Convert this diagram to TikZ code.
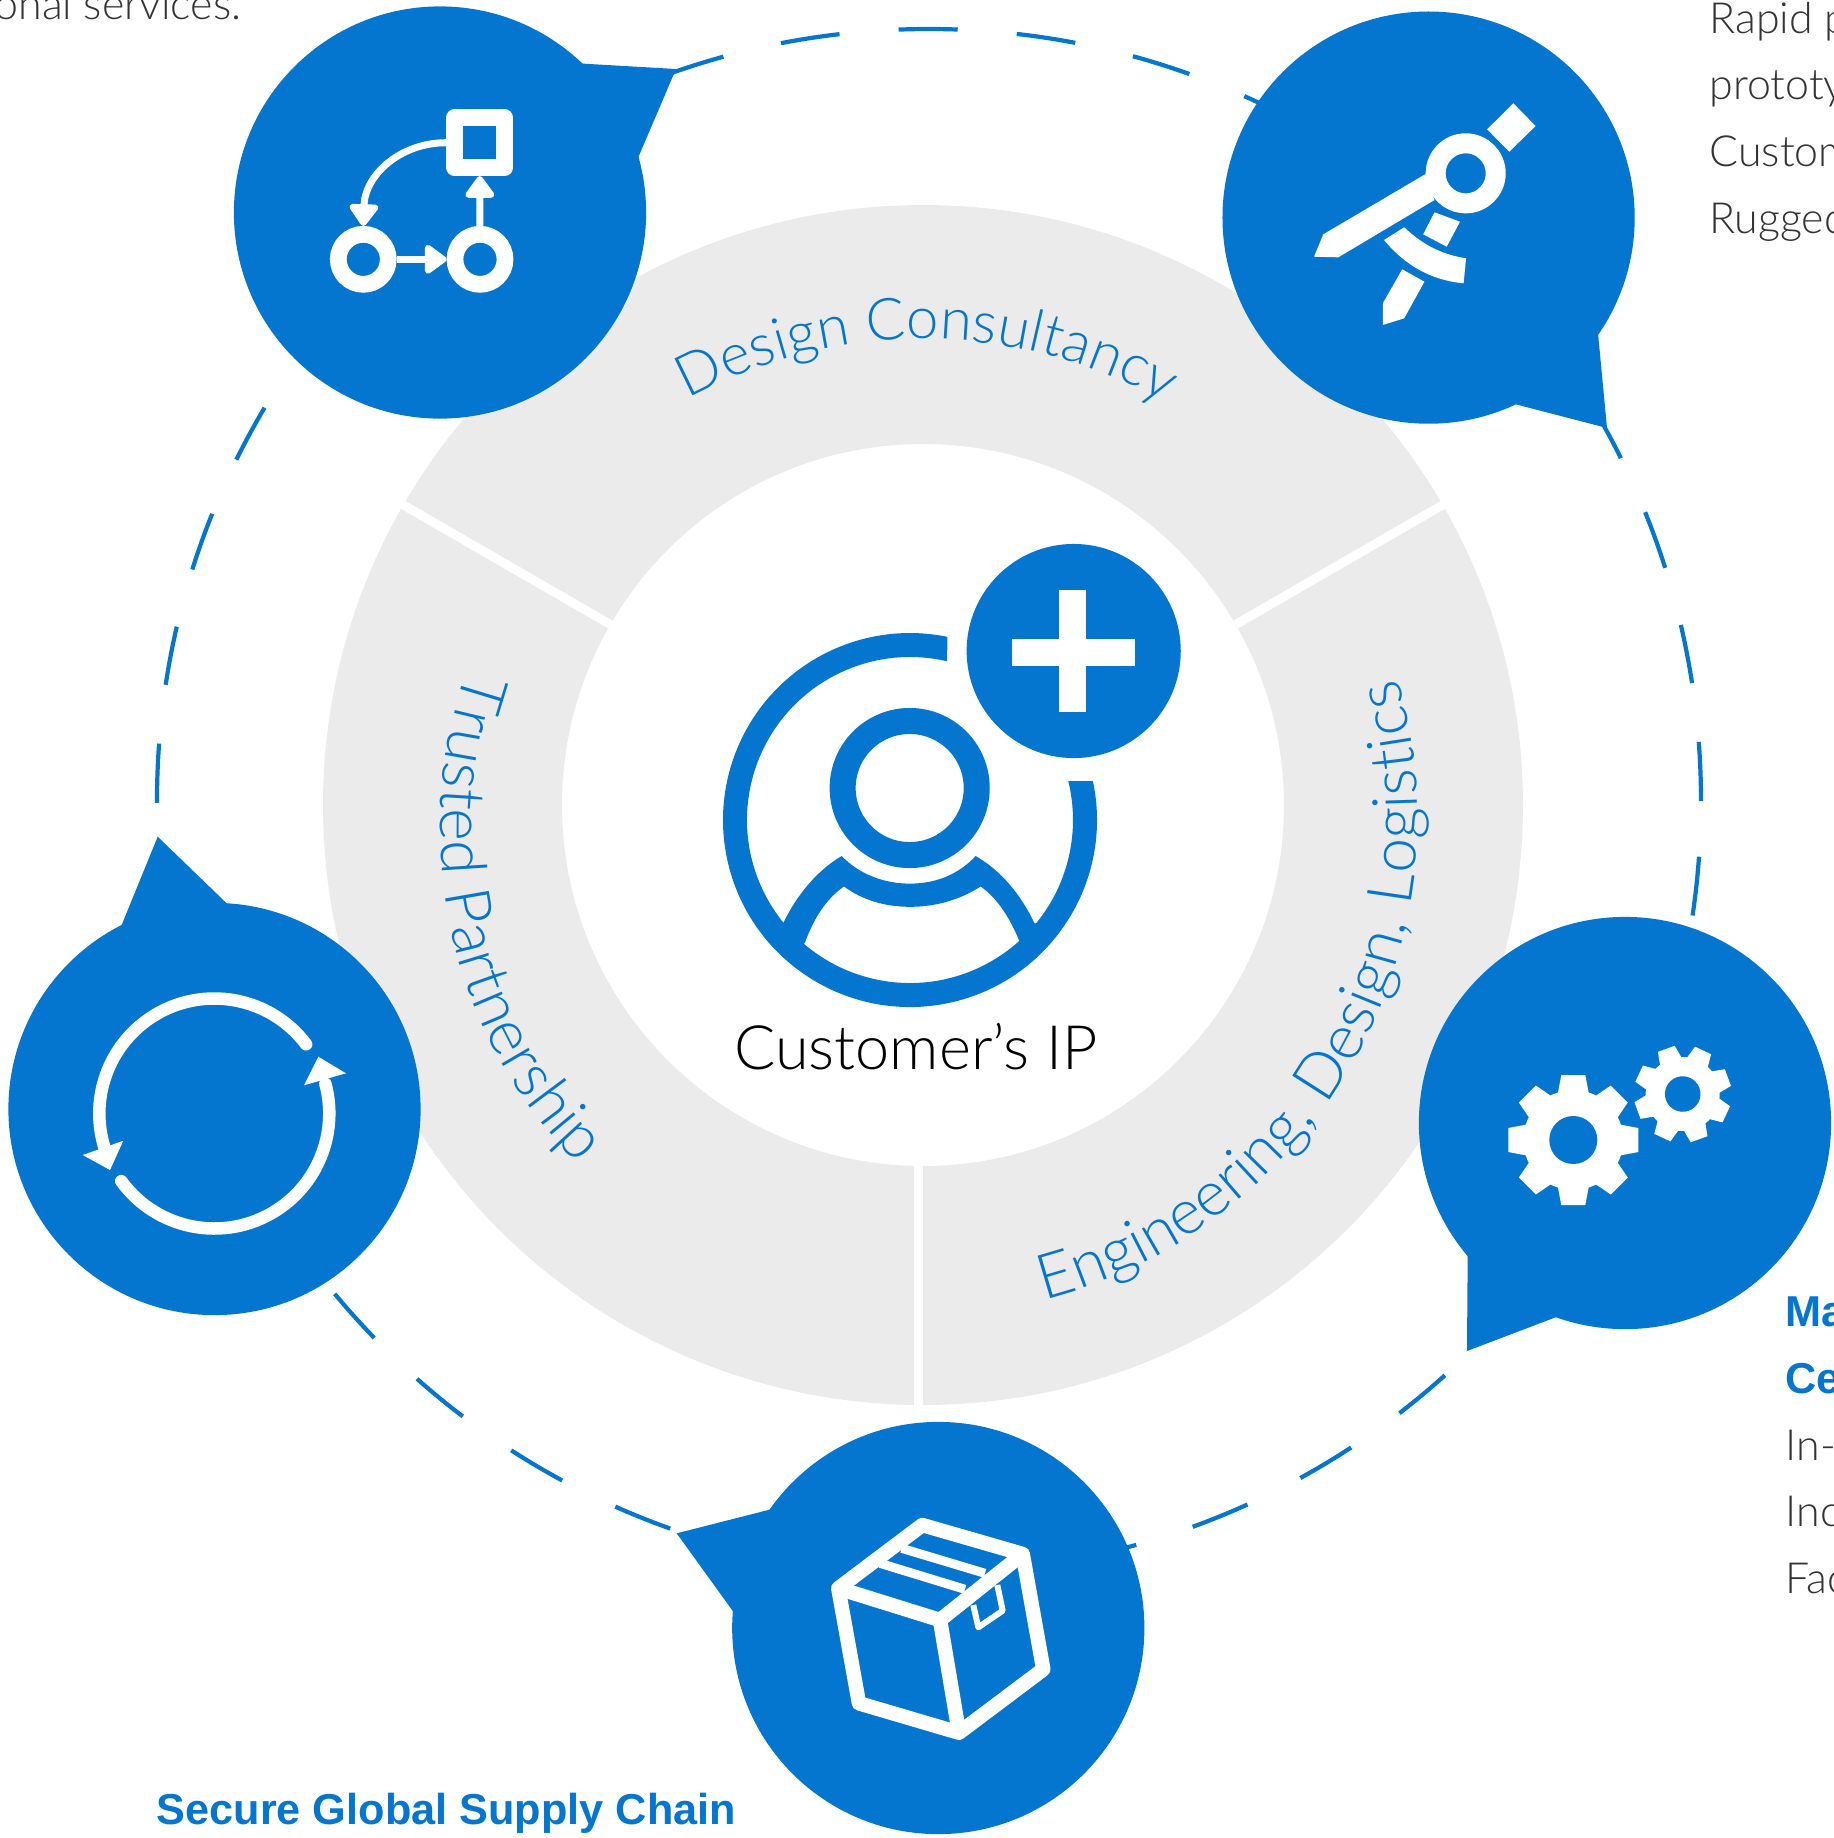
\documentclass[tikz,border=0pt]{standalone}
\usepackage{fontspec}
\setmainfont{Lato}[UprightFont=* Light,BoldFont=* Bold]
\newfontfamily\headfont{Liberation Sans}
\usetikzlibrary{arrows.meta,calc,decorations.text}
\definecolor{dellblue}{HTML}{0476D0}
\definecolor{ringgray}{HTML}{EBEBEB}
\definecolor{bodygray}{HTML}{333333}
\newcommand{\ringfont}{\fontsize{16.5pt}{20pt}\selectfont}
\newcommand{\ringfontwide}{\fontsize{17.8pt}{20pt}\selectfont}

\begin{document}
\begin{tikzpicture}[x=0.01cm, y=0.01cm]
	\tikzstyle{bubble} = [circle, fill=dellblue, inner sep=0, outer sep=0, minimum size=4.12cm]
	\tikzstyle{tail} = [fill=dellblue]
	\tikzstyle{sidetext} = [anchor=base west, inner sep=0, text=bodygray, font=\fontsize{12.2pt}{14pt}\selectfont]
	\tikzstyle{headtext} = [anchor=base west, inner sep=0, text=dellblue, font=\headfont\fontsize{12.3pt}{14pt}\selectfont\bfseries]
	\tikzstyle{ringlabel} = [decorate, decoration={text along path, text color=dellblue, text align=center, raise=0pt}]
	\tikzstyle{flowring} = [circle, draw=white, line width=0.167cm, inner sep=0, minimum size=0.5cm]
	\tikzstyle{flowline} = [draw=white, line width=0.07cm]
	\tikzstyle{flowtip} = [-{Triangle[length=0.24cm, width=0.33cm, round]}]
	\tikzstyle{boxline} = [draw=white, line width=0.145cm, line join=round]
	\clip (0,0) rectangle (1834,-1838);

	% ring
	\coordinate (Core) at (923,-805);
	\fill[ringgray, even odd rule] (Core) circle (600) (Core) circle (361);
	\coordinate (SepA) at (918,-1165);
	\coordinate (SepB) at (918,-1406);
	\draw[white, line width=0.09cm, yshift=-0.05cm] ($(Core)+(30:361)$) -- ($(Core)+(30:602)$);
	\draw[white, line width=0.09cm, xshift=0.02cm] ($(Core)+(150:361)$) -- ($(Core)+(150:602)$);
	\draw[white, line width=0.09cm] (SepA) -- (SepB);
	\path[ringlabel, decoration={text={|\ringfont|Design Consultancy}}]
		(923,-830) ++(149.5:491) arc[start angle=149.5, end angle=29.5, radius=491];
	\path[ringlabel, decoration={text={|\ringfontwide|Trusted Partnership}}]
		(920.3,-828) ++(132.2:480) arc[start angle=132.2, end angle=253.2, radius=480];
	\path[ringlabel, decoration={text={|\ringfontwide|Engineering, Design, Logistics}}]
		(919.6,-817.8) ++(270.4:498) arc[start angle=270.4, end angle=390.4, radius=498];

	% dashed circle
	\draw[dellblue, line width=0.042cm, dash pattern=on 0.5917cm off 0.5917cm] (929,-801) circle (772);

	% bubbles
	\node[bubble] (Design) at (440,-212.5) {};
	\fill[tail] (581,-63.5) -- (676,-69) -- (638,-158) -- (Design.center) -- cycle;
	\node[bubble] (Prototype) at (1428.6,-217.6) {};
	\fill[tail] (1598,-333) -- (1607,-428) -- (1514.6,-404) -- (Prototype.center) -- cycle;
	\node[bubble] (Gears) at (1625,-1123) {};
	\fill[tail] (1467.7,-1254) -- (1467,-1351) -- (1557.7,-1316.5) -- (Gears.center) -- cycle;
	\node[bubble] (Cycle) at (214.5,-1109) {};
	\fill[tail] (227.7,-904.3) -- (157.7,-836.7) -- (120.7,-927.3) -- (Cycle.center) -- cycle;
	\node[bubble] (Box) at (938.3,-1628) {};
	\fill[tail] (771,-1509.3) -- (676.7,-1533.3) -- (733.3,-1611.7) -- (Box.center) -- cycle;

	% flow icon
	\node[draw=white, line width=0.167cm, line join=round, inner sep=0, minimum size=0.5cm] (FlowTop) at (479.7,-142.7) {};
	\node[flowring] (FlowLeft) at (363.3,-259.3) {};
	\node[flowring] (FlowRight) at (480,-259.3) {};
	\draw[flowline, flowtip] (FlowLeft) -- (FlowRight);
	\draw[flowline, flowtip] (FlowRight) -- (FlowTop);
	\draw[flowline, flowtip] (FlowTop.west) .. controls (400,-142.7) and (365,-175) .. (FlowLeft.north);

	% compass icon
	\fill[white] (1513.4,-103.3) -- (1535.6,-126) -- (1509.3,-151.7) -- (1487.1,-129.3) -- cycle;
	\fill[white] (1425.6,-174) -- (1323.3,-234.3) -- (1314,-256.7) -- (1338.3,-257.3) -- (1434.5,-200) -- cycle;
	\fill[white] (1434.5,-212.3) -- (1460,-221.7) -- (1446.7,-246.7) -- (1423.2,-234.3) -- cycle;
	\fill[white] (1404.2,-227.3) .. controls (1425,-247) and (1445,-255) .. (1466.1,-258.3)
		-- (1463.6,-283.3) .. controls (1430,-280) and (1405,-265) .. (1384,-240) -- cycle;
	\fill[white] (1402.2,-269.3) -- (1424.4,-281.7) -- (1404.2,-318.3) -- (1382.8,-325) -- (1382.8,-303.3) -- cycle;
	\node[circle, draw=white, line width=0.2cm, inner sep=0, minimum size=0.6cm] (Pivot) at (1465.7,-173.3) {};

	% gear icon
	\begin{scope}[shift={(1573.3,-1140)}]
		\foreach \a in {0,45,...,315}
			\fill[white, rotate=\a] (44,-16) -- (65,-12) -- (65,12) -- (44,16) -- cycle;
		\fill[white] (0,0) circle (50);
		\fill[dellblue] (0,0) circle (24);
	\end{scope}
	\begin{scope}[shift={(1682.7,-1094)}, rotate=20, scale=0.74]
		\foreach \a in {0,45,...,315}
			\fill[white, rotate=\a] (44,-16) -- (65,-12) -- (65,12) -- (44,16) -- cycle;
		\fill[white] (0,0) circle (50);
		\fill[dellblue] (0,0) circle (24);
	\end{scope}

	% cycle icon
	\coordinate (Hub) at (214.3,-1113.5);
	\draw[white, line width=0.125cm, line cap=round] (Hub) ++(37:115) arc[start angle=37, end angle=197, radius=115];
	\draw[white, line width=0.125cm, line cap=round] (Hub) ++(216:115) arc[start angle=216, end angle=375, radius=115];
	\fill[white] (318.3,-1056.7) -- (346,-1073.3) -- (304,-1085.3) -- cycle;
	\fill[white] (82.7,-1155) -- (110,-1170) -- (123.3,-1140.7) -- cycle;

	% box icon
	\draw[boxline] (838.3,-1588.3) -- (922.3,-1525) -- (1022.7,-1554) -- (1043.3,-1669.3) -- (959,-1732.7) -- (859,-1703.3) -- cycle;
	\draw[boxline] (838.3,-1588.3) -- (940,-1620) -- (1022.7,-1554);
	\draw[boxline] (940,-1620) -- (959,-1732.7);
	\draw[white, line width=0.09cm] (901.7,-1548.3) -- (985,-1573.3);
	\draw[white, line width=0.09cm] (880,-1563.3) -- (965,-1589.3);
	\draw[white, line width=0.06cm, line join=round] (973.3,-1605) -- (978.3,-1627.3) -- (1002.7,-1610.7) -- (997.3,-1585);

	% customer icon
	\coordinate (Person) at (910,-820);
	\fill[dellblue] (Person) ++(12:187) arc[start angle=12, end angle=-281.5, radius=187]
		-- ($(Person)+(76.8:163)$) arc[start angle=-283.2, end angle=13.8, radius=163] -- cycle;
	\node[circle, draw=dellblue, line width=0.26cm, inner sep=0, minimum size=1.34cm] (Head) at (909.7,-788) {};
	\fill[dellblue] (778,-925) -- (783.3,-922.9) .. controls (798,-893) and (818,-870) .. (841.7,-856)
		.. controls (860,-875) and (885,-883.6) .. (910,-883.6)
		.. controls (935,-883.6) and (958,-875) .. (975.7,-856)
		.. controls (1000,-870) and (1020,-893) .. (1034.3,-922.9) -- (1040,-925)
		-- (1025,-948) -- (1020,-942.5) .. controls (1010,-918) and (998,-899) .. (980.7,-886.4)
		.. controls (960,-900) and (935,-906.8) .. (910,-906.8)
		.. controls (885,-906.8) and (862,-900) .. (844,-886.4)
		.. controls (826,-899) and (814,-918) .. (805,-942.5) -- (800,-948) -- cycle;
	\node[circle, fill=dellblue, inner sep=0, minimum size=2.14cm] (Plus) at (1073.7,-651) {};
	\fill[white] (1012.3,-639) rectangle (1135,-665.7);
	\fill[white] (1059.3,-590) rectangle (1085.7,-712);
	\node[anchor=base, inner sep=0, text=black, font=\fontsize{17.4pt}{20pt}\selectfont] (Owner) at (916,-1069) {Customer’s IP};

	% side texts
	\node[anchor=base east, inner sep=0, text=bodygray, font=\fontsize{12.2pt}{14pt}\selectfont] (ServiceEnd) at (242,-19) {onal services.};
	\node[sidetext] (RapidLine) at (1709,-33) {Rapid p};
	\node[sidetext] (ProtoLine) at (1709,-99.8) {prototy};
	\node[sidetext] (CustomLine) at (1709,-166.6) {Custom};
	\node[sidetext] (RuggedLine) at (1709,-233.4) {Rugged};
	\node[headtext] (MaLine) at (1785,-1326) {Ma};
	\node[headtext] (CeLine) at (1785,-1393) {Ce};
	\node[sidetext] (InLine) at (1785,-1460) {In-};
	\node[sidetext] (IncLine) at (1785,-1526.5) {Inc};
	\node[sidetext] (FacLine) at (1785,-1593) {Fac};
	\node[headtext] (SupplyHead) at (156,-1824) {Secure Global Supply Chain};
\end{tikzpicture}
\end{document}
